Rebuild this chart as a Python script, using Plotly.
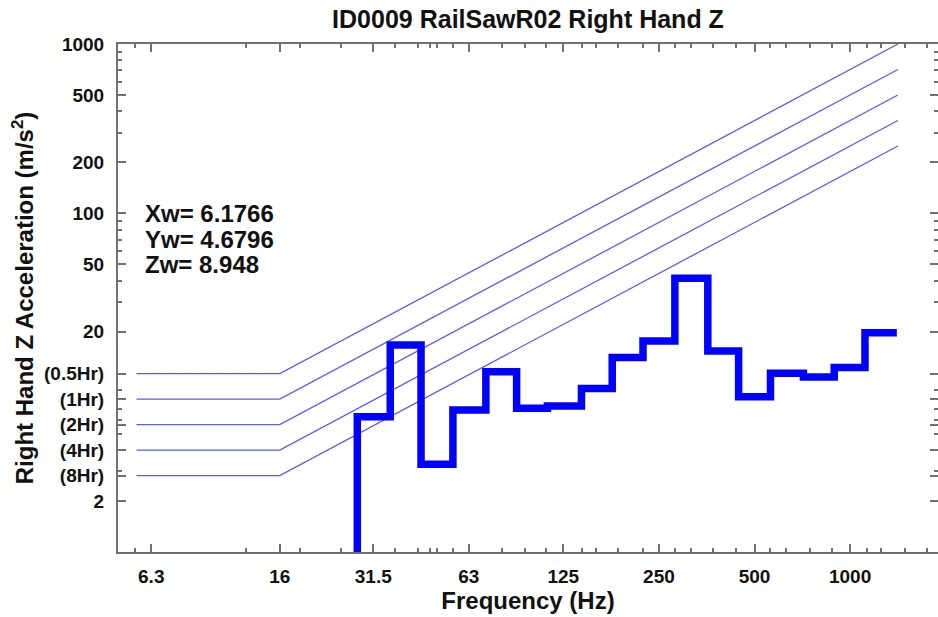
import plotly.graph_objects as go

# ---- data ----
band_centers = [25, 31.5, 40, 50, 63, 80, 100, 125, 160, 200, 250, 315, 400, 500, 630, 800, 1000, 1250]
z_accel = [0.5, 6.3, 16.7, 3.3, 6.9, 11.6, 7.05, 7.27, 9.25, 14.1, 17.6, 41.3, 15.4, 8.26, 11.35, 10.8, 12.3, 19.7]

limit_labels = ["(0.5Hr)", "(1Hr)", "(2Hr)", "(4Hr)", "(8Hr)"]
limit_levels = [11.31, 8.0, 5.657, 4.0, 2.828]
limit_knots = [5.66, 16, 1414]          # start, corner, end frequency

x_tickvals = [6.3, 16, 31.5, 63, 125, 250, 500, 1000]
x_ticktext = ["6.3", "16", "31.5", "63", "125", "250", "500", "1000"]
x_minor = [5.6, 12.5, 18.5, 25, 37, 43.6, 47.6, 50, 56, 80, 95, 110, 143, 158, 186, 223,
           281, 315, 371, 437, 560, 630, 748, 875, 1128, 1250, 1489, 1741]

y_major = [1000, 500, 200, 100, 50, 20, 2]
y_minor = [m * d for d in (1, 10, 100) for m in range(2, 10)]

weighted = [("Xw", "6.1766"), ("Yw", "4.6796"), ("Zw", "8.948")]

title = "ID0009 RailSawR02 Right Hand Z"

# ---- build figure ----
fig = go.Figure()

for lvl in limit_levels:
    xs = limit_knots
    ys = [lvl, lvl, lvl * limit_knots[2] / limit_knots[1]]
    fig.add_trace(go.Scatter(x=xs, y=ys, mode="lines",
                             line=dict(color="#5a5aff", width=1.3),
                             hoverinfo="skip", showlegend=False))

r = 2 ** (1 / 6)
xs = [c / r for c in band_centers] + [band_centers[-1] * r]
ys = z_accel + [z_accel[-1]]
fig.add_trace(go.Scatter(x=xs, y=ys, mode="lines", line_shape="hv",
                         line=dict(color="#0000ff", width=7.5),
                         showlegend=False))

y_tickvals = y_major[:-1] + limit_levels + [y_major[-1]]
y_ticktext = [str(v) for v in y_major[:-1]] + limit_labels + [str(y_major[-1])]

axis_col = "#707070"
tick_font = dict(family="Liberation Sans", size=19, color="#111", weight="bold")

fig.update_xaxes(type="log", range=[0.6946, 3.2767], automargin=False,
                 tickmode="array", tickvals=x_tickvals, ticktext=x_ticktext,
                 ticks="inside", ticklen=8, tickwidth=2, tickcolor=axis_col,
                 showline=True, linecolor=axis_col, linewidth=2, mirror="ticks",
                 showgrid=False, zeroline=False, tickfont=tick_font,
                 ticklabelstandoff=6,
                 minor=dict(tickmode="array", tickvals=x_minor, ticks="inside",
                            ticklen=4, tickwidth=1.5, tickcolor=axis_col, showgrid=False),
                 title=dict(text="Frequency (Hz)", standoff=4,
                            font=dict(family="Liberation Sans", size=24, color="#111", weight="bold")))

fig.update_yaxes(type="log", range=[0, 3], automargin=False,
                 tickmode="array", tickvals=y_tickvals, ticktext=y_ticktext,
                 ticks="inside", ticklen=8, tickwidth=2, tickcolor=axis_col,
                 showline=True, linecolor=axis_col, linewidth=2, mirror="ticks",
                 showgrid=False, zeroline=False, tickfont=tick_font,
                 ticklabelstandoff=8,
                 minor=dict(tickmode="array", tickvals=y_minor, ticks="inside",
                            ticklen=4, tickwidth=1.5, tickcolor=axis_col, showgrid=False),
                 title=dict(text="Right Hand Z Acceleration (m/s<sup>2</sup>)", standoff=4,
                            font=dict(family="Liberation Sans", size=24, color="#111", weight="bold")))

for i, (name, val) in enumerate(weighted):
    fig.add_annotation(x=0.0305, y=0.6654 - i * 0.0498, xref="paper", yref="paper",
                       xanchor="left", yanchor="middle", showarrow=False,
                       text=f"{name}= {val}",
                       font=dict(family="Liberation Sans", size=24, color="#111", weight="bold"))

fig.update_layout(
    width=938, height=617,
    margin=dict(l=118, r=0, t=44, b=65),
    paper_bgcolor="white", plot_bgcolor="white",
    title=dict(text=title, x=0.5, xref="paper", xanchor="center",
               y=1 - 19 / 617, yref="container", yanchor="middle",
               font=dict(family="Liberation Sans", size=25, color="#111", weight="bold")),
)

fig.write_html("out.html", config={"displayModeBar": False},
               post_script="document.body.style.margin='0';document.body.style.overflow='hidden';")
